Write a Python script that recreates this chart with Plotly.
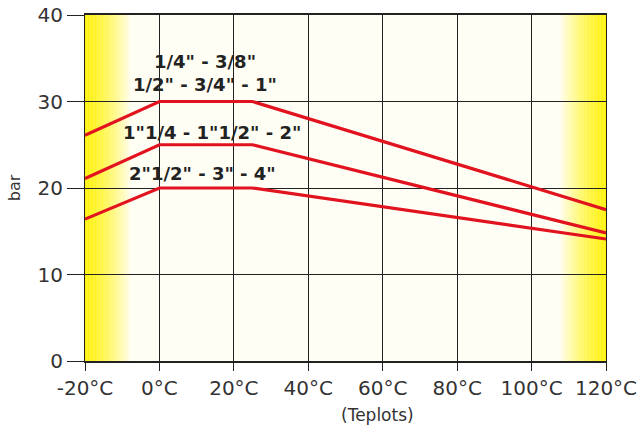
import plotly.graph_objects as go

# ---- data ----
temps = [-20, 0, 25, 120]
series_1 = [26.1, 30, 30, 17.5]   # 1/4" - 3/8" ; 1/2" - 3/4" - 1"
series_2 = [21.1, 25, 25, 14.8]   # 1"1/4 - 1"1/2" - 2"
series_3 = [16.4, 20, 20, 14.1]   # 2"1/2" - 3" - 4"
label_texts = ['1/4" - 3/8"', '1/2" - 3/4" - 1"', '1"1/4 - 1"1/2" - 2"', '2"1/2" - 3" - 4"']
label_x = [12.3, 12.3, 14.1, 11.7]
label_y = [34.6, 32.0, 26.4, 21.7]
x_ticks = [-20, 0, 20, 40, 60, 80, 100, 120]
x_tick_text = ["-20°C", "0°C", "20°C", "40°C", "60°C", "80°C", "100°C", "120°C"]
y_ticks = [0, 10, 20, 30, 40]

RED = "#E1131F"
fig = go.Figure()
for s in (series_1, series_2, series_3):
    fig.add_trace(go.Scatter(x=temps, y=s, mode="lines",
                             line=dict(color=RED, width=3.2), hoverinfo="skip",
                             showlegend=False))

# gradient bands (yellow -> cream) drawn below grid
def mix(t):
    c0 = (255, 242, 0)
    c1 = (255, 254, 244)
    return "rgb(%d,%d,%d)" % tuple(round(a + (b - a) * t) for a, b in zip(c0, c1))

n = 60
band = 12.5
shapes = []
for i in range(n):
    t = (i + 0.5) / n
    tt = t ** 1.4
    w = band / n
    shapes.append(dict(type="rect", xref="x", yref="y", layer="below",
                       x0=-20 + i * w, x1=-20 + (i + 1) * w + 0.05, y0=0, y1=40,
                       line=dict(width=0), fillcolor=mix(tt)))
    shapes.append(dict(type="rect", xref="x", yref="y", layer="below",
                       x0=120 - (i + 1) * w - 0.05, x1=120 - i * w, y0=0, y1=40,
                       line=dict(width=0), fillcolor=mix(tt)))

annotations = []
for txt, x, y in zip(label_texts, label_x, label_y):
    annotations.append(dict(x=x, y=y, xref="x", yref="y", text="<b>" + txt + "</b>",
                            showarrow=False,
                            font=dict(family="DejaVu Sans", size=18, color="#222222"),
                            xanchor="center", yanchor="middle"))
annotations.append(dict(x=0.562, y=-0.12, xref="paper", yref="paper", text="(Teplots)",
                        showarrow=False, yanchor="top",
                        font=dict(family="DejaVu Sans", size=17, color="#333333")))

fig.update_layout(
    width=641, height=428,
    margin=dict(l=85, r=35, t=15, b=67, autoexpand=False),
    paper_bgcolor="white", plot_bgcolor="#FFFEF4",
    shapes=shapes, annotations=annotations,
    font=dict(family="DejaVu Sans", color="#333333"),
)
fig.update_xaxes(range=[-20, 120], tickvals=x_ticks, ticktext=x_tick_text,
                 showgrid=True, gridcolor="#222222", gridwidth=1,
                 showline=True, linecolor="#222222", linewidth=2, mirror=True,
                 ticks="outside", ticklen=8, tickcolor="#222222",
                 tickfont=dict(size=20, color="#333333"), zeroline=False,
                 automargin=False)
fig.update_yaxes(range=[0, 40], tickvals=y_ticks,
                 showgrid=True, gridcolor="#222222", gridwidth=1,
                 showline=True, linecolor="#222222", linewidth=1, mirror=True,
                 ticks="outside", ticklen=17, tickcolor="#222222",
                 tickfont=dict(size=20, color="#333333"), zeroline=False,
                 automargin=False,
                 title=dict(text="bar", font=dict(size=16, color="#333333"), standoff=12))

fig.write_html("out.html", config={"displayModeBar": False},
               post_script="document.body.style.margin='0';")
